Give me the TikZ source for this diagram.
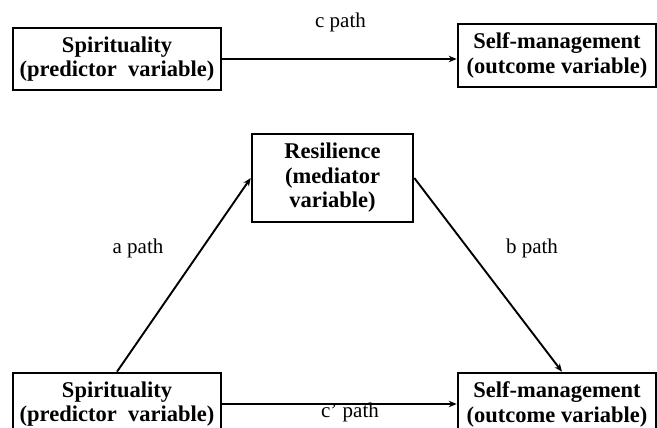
\documentclass[tikz,border=0pt]{standalone}
\usepackage{fontspec}
\setmainfont{Liberation Serif}
\usetikzlibrary{arrows.meta}
\tikzset{
  varbox/.style={draw, line width=2.6pt, inner sep=0pt, align=center,
    font=\bfseries\fontsize{22.5}{24.5}\selectfont},
  pathlabel/.style={anchor=base, inner sep=0pt, font=\fontsize{21}{24}\selectfont},
  conn/.style={line width=1.9pt, -{Stealth[length=8pt,width=6.5pt]}}
}
\begin{document}
\begin{tikzpicture}[x=1pt,y=-1pt]
\useasboundingbox (0,0) rectangle (657,428);
\clip (0,0) rectangle (657,428);
\node[varbox, minimum width=208pt, minimum height=62pt] (tl) at (117,59) {Spirituality\\(predictor~~variable)};
\node[varbox, minimum width=198pt, minimum height=63pt] (tr) at (557,55.5) {Self-management\\(outcome variable)};
\node[varbox, minimum width=161pt, minimum height=88pt] (res) at (332.5,178) {Resilience\\(mediator\\variable)};
\node[varbox, minimum width=208pt, minimum height=62pt] (bl) at (117,404) {Spirituality\\(predictor~~variable)};
\node[varbox, minimum width=198pt, minimum height=63pt] (br) at (557,404.5) {Self-management\\(outcome variable)};
\draw[conn] (tl.east) -- (tl.east -| tr.west);
\draw[conn] (bl.north) -- (res.west);
\draw[conn] (res.east) -- ([xshift=5pt]br.north);
\draw[conn] (bl.east) -- (bl.east -| br.west);
\node[pathlabel] (lc) at (340.5,28) {c path};
\node[pathlabel] (la) at (138,253) {a path};
\node[pathlabel] (lb) at (532,253) {b path};
\node[pathlabel] (lcp) at (350,417) {c’ path};
\end{tikzpicture}
\end{document}
